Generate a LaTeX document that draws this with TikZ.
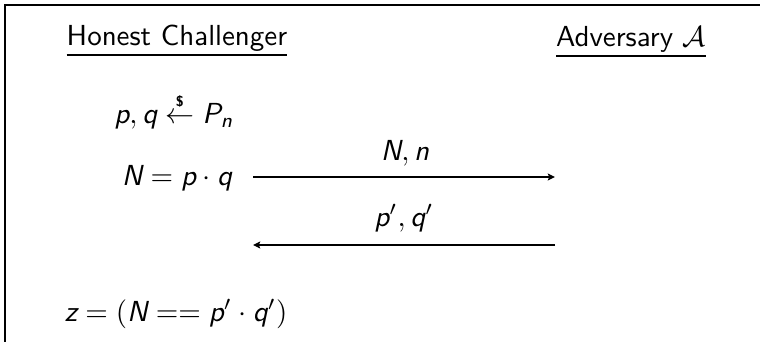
\documentclass[tikz,border=0pt]{standalone}
\usetikzlibrary{arrows.meta}
\renewcommand{\familydefault}{\sfdefault}
\newcommand{\mi}[1]{\text{\sffamily\itshape #1}}
\usepackage{amsmath}
\begin{document}
\begin{tikzpicture}[x=0.345pt,y=-0.345pt,
  lbl/.style={anchor=base, inner sep=0pt},
  msg/.style={-{Stealth[length=2.5pt,width=2.4pt,inset=0.5pt]}, line width=0.4pt},
  frame/.style={line width=0.7pt}]
\useasboundingbox (0,0) rectangle (760,342);
\coordinate (tl) at (5,5);
\coordinate (tr) at (760,5);
\coordinate (bl) at (5,342);
\draw[frame] (tr) -- (tl) -- (bl);
\node[lbl] (hc) at (177,45) {\underline{Honest Challenger}};
\node[lbl] (adv) at (631,46) {\underline{Adversary $\mathcal{A}$}};
\node[lbl] (pq) at (174,123) {$\mi{p},\mi{q} \stackrel{\text{\fontsize{5}{6}\selectfont\bfseries\$}}{\leftarrow} \mi{P}_{\mi{n}}$};
\node[lbl] (Npq) at (177,185) {$\mi{N} = \mi{p}\cdot \mi{q}$};
\node[lbl] (z) at (176,321) {$\mi{z} = (\mi{N} == \mi{p}'\cdot \mi{q}')$};
\coordinate (a1s) at (253,177);
\coordinate (a1e) at (555,177);
\coordinate (a2s) at (555,245);
\coordinate (a2e) at (253,245);
\draw[msg] (a1s) -- (a1e);
\draw[msg] (a2s) -- (a2e);
\node[lbl] (Nn) at (405,160) {$\mi{N},\mi{n}$};
\node[lbl] (pqp) at (404,226) {$\mi{p}',\mi{q}'$};
\end{tikzpicture}
\end{document}
